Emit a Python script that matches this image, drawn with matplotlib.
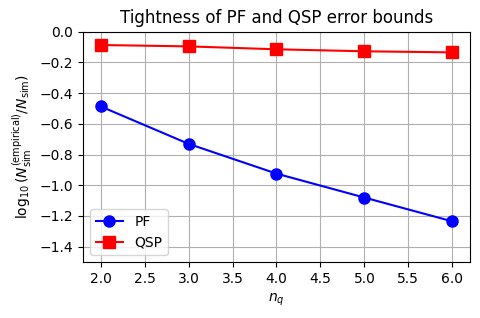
import matplotlib
matplotlib.use("Agg")
import matplotlib.pyplot as plt

nq = [2, 3, 4, 5, 6]
pf = [-0.486, -0.730, -0.924, -1.080, -1.235]
qsp = [-0.086, -0.095, -0.114, -0.127, -0.134]

fig = plt.figure(figsize=(4.8, 3.18), dpi=100)
ax = fig.add_axes([0.173, 0.176, 0.806, 0.724])
ax.plot(nq, pf, 'o-', color='blue', markersize=8, label='PF')
ax.plot(nq, qsp, 's-', color='red', markersize=8, label='QSP')
ax.set_ylim(-1.5, 0.0)
ax.set_xlabel(r'$n_q$')
ax.set_ylabel(r'$\log_{10}(N_{\rm sim}^{\rm (empirical)}/N_{\rm sim})$')
ax.set_title('Tightness of PF and QSP error bounds')
ax.grid(True)
ax.legend(loc='lower left')
fig.savefig('out.png', dpi=100)
